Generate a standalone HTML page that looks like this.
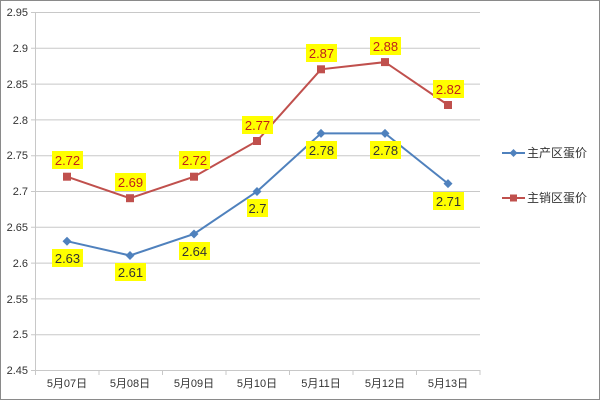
<!DOCTYPE html>
<html><head><meta charset="utf-8"><style>
body{margin:0;background:#fff}
svg{display:block}
text{font-family:"Liberation Sans","Noto Sans CJK SC",sans-serif}
</style></head><body>
<svg width="600" height="400" xmlns="http://www.w3.org/2000/svg">
<rect x="0.5" y="0.5" width="599" height="399" fill="#fff" stroke="#8a8a8a"/>
<g stroke="#c8c8c8" stroke-width="1">
<line x1="31" y1="12.5" x2="480" y2="12.5"/>
<line x1="31" y1="48.3" x2="480" y2="48.3"/>
<line x1="31" y1="84.1" x2="480" y2="84.1"/>
<line x1="31" y1="119.9" x2="480" y2="119.9"/>
<line x1="31" y1="155.7" x2="480" y2="155.7"/>
<line x1="31" y1="191.5" x2="480" y2="191.5"/>
<line x1="31" y1="227.3" x2="480" y2="227.3"/>
<line x1="31" y1="263.1" x2="480" y2="263.1"/>
<line x1="31" y1="298.9" x2="480" y2="298.9"/>
<line x1="31" y1="334.7" x2="480" y2="334.7"/>
<line x1="31" y1="370.5" x2="480" y2="370.5"/>
<line x1="35.5" y1="12" x2="35.5" y2="370"/>
<line x1="99" y1="370" x2="99" y2="375"/><line x1="162.5" y1="370" x2="162.5" y2="375"/>
<line x1="226" y1="370" x2="226" y2="375"/><line x1="289.5" y1="370" x2="289.5" y2="375"/>
<line x1="353" y1="370" x2="353" y2="375"/><line x1="416.5" y1="370" x2="416.5" y2="375"/>
<line x1="480" y1="370" x2="480" y2="375"/><line x1="35.5" y1="370" x2="35.5" y2="375"/>
</g>
<g font-size="11" fill="#333" text-anchor="end">
<text x="28" y="16">2.95</text><text x="28" y="52">2.9</text><text x="28" y="88">2.85</text>
<text x="28" y="124">2.8</text><text x="28" y="159">2.75</text><text x="28" y="195">2.7</text>
<text x="28" y="231">2.65</text><text x="28" y="267">2.6</text><text x="28" y="303">2.55</text>
<text x="28" y="338">2.5</text><text x="28" y="374">2.45</text>
</g>
<g font-size="11" fill="#333" text-anchor="middle">
<text x="67" y="387">5月07日</text><text x="130" y="387">5月08日</text><text x="194" y="387">5月09日</text>
<text x="257" y="387">5月10日</text><text x="321" y="387">5月11日</text><text x="385" y="387">5月12日</text>
<text x="448" y="387">5月13日</text>
</g>
<polyline fill="none" stroke="#c0504d" stroke-width="2" points="67,176.7 130,198.2 194,176.7 257,141 321,69.3 385,62.1 448,105"/>
<polyline fill="none" stroke="#4f81bd" stroke-width="2" points="67,241.2 130,255.5 194,234 257,191.5 321,133.4 385,133.4 448,183.6"/>
<g fill="#c0504d">
<rect x="63" y="172.7" width="8" height="8"/><rect x="126" y="194.2" width="8" height="8"/><rect x="190" y="172.7" width="8" height="8"/>
<rect x="253" y="137" width="8" height="8"/><rect x="317" y="65.3" width="8" height="8"/><rect x="381" y="58.1" width="8" height="8"/><rect x="444" y="101" width="8" height="8"/>
</g>
<g fill="#4f81bd">
<path d="M67 236.7l4.5 4.5-4.5 4.5-4.5-4.5z"/><path d="M130 251l4.5 4.5-4.5 4.5-4.5-4.5z"/><path d="M194 229.5l4.5 4.5-4.5 4.5-4.5-4.5z"/>
<path d="M257 187l4.5 4.5-4.5 4.5-4.5-4.5z"/><path d="M321 128.9l4.5 4.5-4.5 4.5-4.5-4.5z"/><path d="M385 128.9l4.5 4.5-4.5 4.5-4.5-4.5z"/><path d="M448 179.1l4.5 4.5-4.5 4.5-4.5-4.5z"/>
</g>
<g fill="#ffff00">
<rect x="52" y="151" width="31" height="18"/><rect x="115" y="173" width="31" height="18"/><rect x="179" y="151" width="31" height="18"/>
<rect x="242" y="116" width="31" height="18"/><rect x="306" y="44" width="31" height="18"/><rect x="370" y="37" width="31" height="18"/><rect x="433" y="80" width="31" height="18"/>
<rect x="52" y="249" width="31" height="18"/><rect x="115" y="263" width="31" height="18"/><rect x="179" y="242" width="31" height="18"/>
<rect x="247" y="199" width="21" height="18"/><rect x="306" y="141" width="31" height="18"/><rect x="370" y="141" width="31" height="18"/><rect x="433" y="192" width="31" height="18"/>
</g>
<g font-size="13" fill="#c0201a" text-anchor="middle">
<text x="67.5" y="165">2.72</text><text x="130.5" y="187">2.69</text><text x="194.5" y="165">2.72</text>
<text x="257.5" y="130">2.77</text><text x="321.5" y="58">2.87</text><text x="385.5" y="51">2.88</text><text x="448.5" y="94">2.82</text>
</g>
<g font-size="13" fill="#333" text-anchor="middle">
<text x="67.5" y="263">2.63</text><text x="130.5" y="277">2.61</text><text x="194.5" y="256">2.64</text>
<text x="257.5" y="213">2.7</text><text x="321.5" y="155">2.78</text><text x="385.5" y="155">2.78</text><text x="448.5" y="206">2.71</text>
</g>
<line x1="502" y1="153" x2="525" y2="153" stroke="#4f81bd" stroke-width="2"/>
<path d="M513.5 149l4 4-4 4-4-4z" fill="#4f81bd"/>
<text x="527" y="157" font-size="12" fill="#333">主产区蛋价</text>
<line x1="502" y1="198" x2="525" y2="198" stroke="#c0504d" stroke-width="2"/>
<rect x="510" y="194.5" width="7" height="7" fill="#c0504d"/>
<text x="527" y="202" font-size="12" fill="#333">主销区蛋价</text>
</svg>
</body></html>
